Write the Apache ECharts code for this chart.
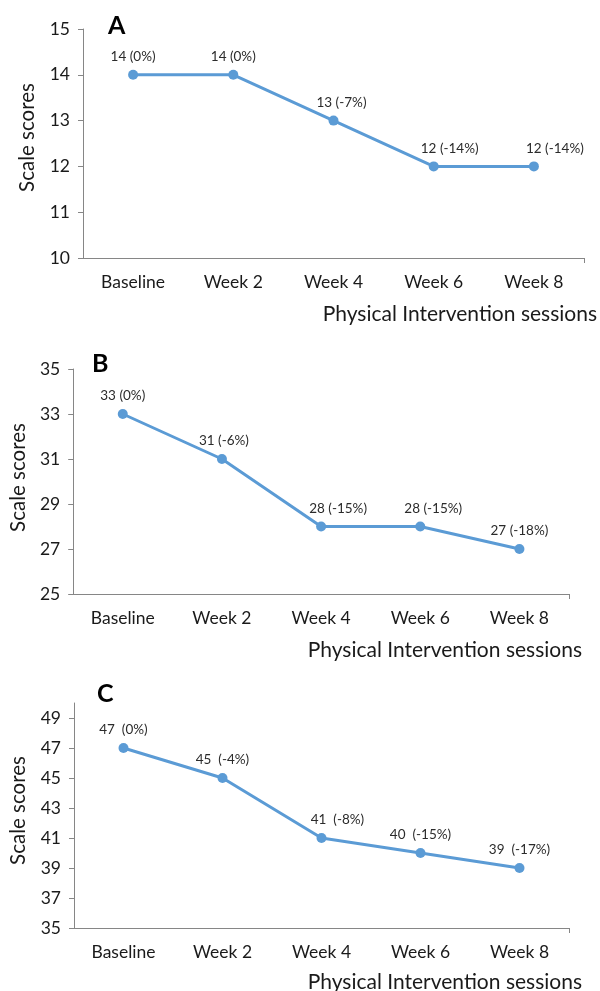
<!DOCTYPE html>
<html>
<head>
<meta charset="utf-8">
<script src="https://cdn.jsdelivr.net/npm/echarts@6/dist/echarts.min.js"></script>
<style>
html,body{margin:0;padding:0;background:#fff;}
#chart{width:600px;height:991px;}
</style>
</head>
<body>
<div id="chart"></div>
<script>
// ---- Data ----
var categories = ['Baseline', 'Week 2', 'Week 4', 'Week 6', 'Week 8'];
var scoresA = [14, 14, 13, 12, 12];
var changeA = [0, 0, -7, -14, -14];
var scoresB = [33, 31, 28, 28, 27];
var changeB = [0, -6, -15, -15, -18];
var scoresC = [47, 45, 41, 40, 39];
var changeC = [0, -4, -8, -15, -17];
var yTicksA = [10, 11, 12, 13, 14, 15];
var yTicksB = [25, 27, 29, 31, 33, 35];
var yTicksC = [35, 37, 39, 41, 43, 45, 47, 49];
var panelLetters = ['A', 'B', 'C'];
var yAxisTitle = 'Scale scores';
var xAxisTitle = 'Physical Intervention sessions';

// ---- Styling / layout ----
var FONT = 'Lato, Carlito, "Open Sans", sans-serif';
var lineColor = '#5B9BD5';
var axisColor = '#868686';
var textColor = '#1a1a1a';
var labelShift = [[0, 0, 8, 16, 21], [0, 2, 17, 13, 0], [0, 0, 16, 0, 0]];
var sep = [' ', ' ', '  '];
var grids = [
  {left: 83, top: 29, width: 501, height: 229},
  {left: 73, top: 369, width: 496, height: 225},
  {left: 74, top: 703, width: 495, height: 225}
];
var yRanges = [[10, 15], [25, 35], [35, 50]];
var yTicks = [yTicksA, yTicksB, yTicksC];
var scores = [scoresA, scoresB, scoresC];
var changes = [changeA, changeB, changeC];
var nameGaps = [45, 44, 45];
var namePad = [[0, 0, 0, 12], [0, 0, 0, 8], [0, 0, 0, 10]];
var letterPos = [[108, 27], [92, 365], [97, 695]];
var xTitlePos = [[597, 314], [582, 650], [582, 982]];

var option = {
  backgroundColor: '#ffffff',
  animation: false,
  grid: [], xAxis: [], yAxis: [], series: [], title: [], graphic: []
};

for (var i = 0; i < 3; i++) {
  option.grid.push(grids[i]);
  option.xAxis.push({
    type: 'category', gridIndex: i, data: categories, boundaryGap: true,
    axisLine: {lineStyle: {color: axisColor, width: 1}},
    axisTick: {alignWithLabel: true, length: 5, lineStyle: {color: axisColor}},
    axisLabel: {color: textColor, fontFamily: FONT, fontSize: 17.5, margin: 15},
    splitLine: {show: false}
  });
  // helper axis: only draws the closing tick at the right end of the x axis
  option.xAxis.push({
    type: 'value', gridIndex: i, min: 0, max: 1, position: 'bottom',
    axisLine: {show: false},
    axisTick: {show: true, length: 5, lineStyle: {color: axisColor}, customValues: [1]},
    axisLabel: {show: false},
    splitLine: {show: false}
  });
  option.yAxis.push({
    type: 'value', gridIndex: i, min: yRanges[i][0], max: yRanges[i][1],
    name: yAxisTitle, nameLocation: 'middle', nameGap: nameGaps[i], nameRotate: 90,
    nameTextStyle: {color: textColor, fontFamily: FONT, fontSize: 20.5, padding: namePad[i]},
    axisLine: {show: true, lineStyle: {color: axisColor, width: 1}},
    axisTick: {show: true, length: 5, lineStyle: {color: axisColor}, customValues: yTicks[i]},
    axisLabel: {color: textColor, fontFamily: FONT, fontSize: 17.5, margin: 13, customValues: yTicks[i]},
    splitLine: {show: false}
  });
  (function (idx) {
    var data = scores[idx].map(function (v, j) {
      return {value: v, label: {offset: [labelShift[idx][j], 0]}};
    });
    option.series.push({
      type: 'line', xAxisIndex: idx * 2, yAxisIndex: idx, data: data,
      symbol: 'circle', symbolSize: 10,
      lineStyle: {color: lineColor, width: 3},
      itemStyle: {color: lineColor},
      label: {
        show: true, position: 'top', distance: 6,
        color: '#2b2b2b', fontFamily: FONT, fontSize: 13.5,
        formatter: function (p) {
          return scores[idx][p.dataIndex] + sep[idx] + '(' + changes[idx][p.dataIndex] + '%)';
        }
      }
    });
  })(i);
  option.graphic.push({
    type: 'text', left: letterPos[i][0], top: letterPos[i][1] - 14,
    style: {text: panelLetters[i], font: 'bold 25px ' + FONT, fill: '#000'}
  });
  option.graphic.push({
    type: 'text', x: xTitlePos[i][0], y: xTitlePos[i][1],
    style: {text: xAxisTitle, font: '21px ' + FONT, fill: textColor,
      textAlign: 'right', textVerticalAlign: 'middle'}
  });
}

var chart = echarts.init(document.getElementById('chart'));
chart.setOption(option);
</script>
</body>
</html>
